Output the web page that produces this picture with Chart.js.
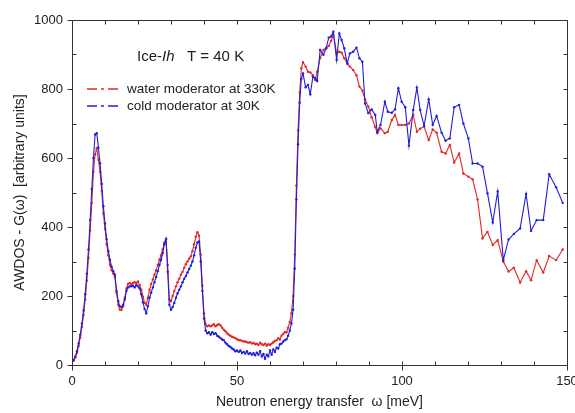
<!DOCTYPE html>
<html><head><meta charset="utf-8">
<script src="https://cdn.jsdelivr.net/npm/chart.js@4.4.1/dist/chart.umd.min.js"></script>
<style>html,body{margin:0;padding:0;background:#fff;}#wrap{width:575px;height:413px;}</style>
</head><body><div id="wrap"><canvas id="c" width="575" height="413"></canvas></div>
<script>
// Energy transfer values (meV)
const energy = [
 0.5,1,1.5,2,2.5,3,3.5,4,4.5,5,5.5,6,6.5,7,7.5,8,8.5,9,9.5,10,
 10.5,11,11.5,12,12.5,13,13.5,14,14.5,15,15.5,16,16.5,17,17.5,18,18.5,19,19.5,20,
 20.5,21,21.5,22,22.5,23,23.5,24,24.5,25,25.5,26,26.5,27,27.5,28,28.5,29,29.5,30,
 30.5,31,31.5,32,32.5,33,33.5,34,34.5,35,35.5,36,36.5,37,37.5,38,38.5,39,39.5,40,
 40.5,41,41.5,42,42.5,43,43.5,44,44.5,45,45.5,46,46.5,47,47.5,48,48.5,49,49.5,50,
 50.5,51,51.5,52,52.5,53,53.5,54,54.5,55,55.5,56,56.5,57,57.5,58,58.5,59,59.5,60,
 60.5,61,61.5,62,62.5,63,63.5,64,64.5,65,65.5,66,66.5,67,67.5,68,68.5,69,69.5,70,
 70.8,71.5,72.2,73.0,73.7,74.3,75.2,76.2,77.0,77.8,
 78.5,79.2,80.2,81.0,81.7,82.5,83.4,84.2,85.2,86.2,
 87.1,88.0,88.8,89.8,90.8,91.9,92.5,93.5,94.8,95.7,
 96.9,97.9,98.9,99.9,101.0,102.1,103.4,104.5,105.5,106.7,
 108.1,109.3,110.5,112.0,113.2,114.5,115.8,117.3,118.6,120.1,
 121.4,122.9,124.4,125.9,127.5,129.0,130.7,132.3,133.9,135.8,
 137.6,139.1,140.8,142.8,144.6,146.7,148.7
];
// Water moderator at 330K
const waterModerator = [
 12,22,35,55,80,110,145,190,245,310,390,470,560,610,628,595,560,505,440,395,
 350,318,290,275,265,255,210,175,160,160,170,195,222,235,238,233,238,240,238,242,
 232,218,198,180,175,195,218,235,248,262,275,290,305,318,335,355,366,290,190,185,
 200,215,228,240,250,262,270,282,292,300,308,315,330,350,372,385,375,320,230,150,
 118,112,115,112,115,118,112,116,118,115,108,102,98,92,88,85,82,80,78,75,
 72,72,70,68,68,66,65,66,62,64,60,62,58,65,60,58,62,56,60,58,
 62,66,70,72,78,74,85,90,95,95,108,125,150,200,320,520,680,790,860,878,
 865,850,848,840,826,850,890,913,918,925,
 940,957,903,908,905,889,875,865,855,840,
 807,795,770,749,718,690,672,686,672,676,
 710,725,696,696,696,700,725,676,685,691,
 652,683,673,618,613,638,587,613,555,546,
 538,480,367,386,348,362,300,271,282,239,
 272,246,304,268,316,304,335
];
// Cold moderator at 30K
const coldModerator = [
 15,25,40,62,88,120,158,205,265,335,420,510,600,668,672,630,585,525,460,410,
 365,330,305,285,272,262,215,185,170,168,175,190,215,225,228,228,230,225,232,228,
 222,205,182,162,150,170,195,210,225,240,255,272,290,305,325,350,364,270,175,160,
 168,180,195,208,218,228,240,250,258,268,278,288,300,318,340,355,358,300,215,135,
 100,92,95,88,95,90,92,85,82,78,74,72,65,60,55,52,48,45,40,42,
 38,42,35,38,33,40,32,35,30,34,28,36,30,40,25,32,18,30,25,42,
 30,45,38,50,48,60,62,68,72,75,85,100,120,160,280,480,640,760,830,845,
 805,812,785,836,831,823,913,899,918,949,
 952,966,884,961,942,918,874,903,908,920,
 889,879,758,730,741,725,676,696,763,734,
 731,741,802,763,747,636,739,804,739,693,
 770,696,722,673,650,657,747,754,700,657,
 584,584,575,498,413,503,304,364,380,396,
 496,389,420,420,553,515,470
];
const xTickLabels = [0, 50, 100, 150];
const yTickLabels = [0, 200, 400, 600, 800, 1000];
const seriesNames = ['water moderator at 330K', 'cold moderator at 30K'];
const sampleNamePlain = 'Ice-';
const sampleNameItalic = 'Ih';
const sampleTemp = '   T = 40 K';
const xTitle = 'Neutron energy transfer  \u03c9 [meV]';
const yTitle = 'AWDOS - G(\u03c9)  [arbitrary units]';

const RED = '#e3262a', BLUE = '#1f1fd8';
const FONT = "'Liberation Sans', Arial, sans-serif";
const TXT = '#222';

const toPts = arr => energy.map((e, i) => ({x: e, y: arr[i]}));

const framePlugin = {
  id: 'frame',
  afterDraw(chart) {
    const {ctx, chartArea: a, scales: {x, y}} = chart;
    const L = Math.round(a.left) + 0.5, R = Math.round(a.right) + 0.5;
    const T = Math.round(a.top) + 0.5, B = Math.round(a.bottom) + 0.5;
    ctx.save();
    ctx.strokeStyle = '#333';
    ctx.lineWidth = 1;
    ctx.beginPath();
    ctx.rect(L, T, R - L, B - T);
    for (let v = 0; v <= 150; v += 10) {
      const px = Math.round(x.getPixelForValue(v)) + 0.5;
      if (v % 50 === 0) { ctx.moveTo(px, B); ctx.lineTo(px, B + 5); }
      ctx.moveTo(px, B); ctx.lineTo(px, B - 4);
      ctx.moveTo(px, T); ctx.lineTo(px, T + 4);
    }
    for (let v = 0; v <= 1000; v += 100) {
      const py = Math.round(y.getPixelForValue(v)) + 0.5;
      if (v % 200 === 0) { ctx.moveTo(L - 5, py); ctx.lineTo(L, py); }
      else { ctx.moveTo(L, py); ctx.lineTo(L + 4, py); }
      ctx.moveTo(R, py); ctx.lineTo(R - 4, py);
    }
    ctx.stroke();

    // annotation and legend
    ctx.fillStyle = TXT;
    ctx.textBaseline = 'middle';
    ctx.textAlign = 'left';
    let tx = 137, ty = 57;
    ctx.font = '15px ' + FONT;
    ctx.fillText(sampleNamePlain, tx, ty);
    tx += ctx.measureText(sampleNamePlain).width;
    ctx.font = 'italic 15px ' + FONT;
    ctx.fillText(sampleNameItalic, tx, ty);
    tx += ctx.measureText(sampleNameItalic).width;
    ctx.font = '15px ' + FONT;
    ctx.fillText(sampleTemp, tx, ty);

    const rows = [[seriesNames[0], RED, 89], [seriesNames[1], BLUE, 106]];
    rows.forEach(([name, col, yy]) => {
      ctx.strokeStyle = col;
      ctx.lineWidth = 1.5;
      ctx.setLineDash([10, 4, 3, 4]);
      ctx.beginPath();
      ctx.moveTo(87, yy); ctx.lineTo(121, yy);
      ctx.stroke();
      ctx.setLineDash([]);
      ctx.fillStyle = TXT;
      ctx.font = '13.5px ' + FONT;
      ctx.fillText(name, 127, yy);
    });
    ctx.restore();
  }
};

new Chart(document.getElementById('c'), {
  type: 'line',
  data: {
    datasets: [
      {label: seriesNames[1], data: toPts(coldModerator), borderColor: BLUE, backgroundColor: BLUE,
       borderWidth: 1.1, pointRadius: 1.2, pointBorderWidth: 0, pointBackgroundColor: BLUE, tension: 0},
      {label: seriesNames[0], data: toPts(waterModerator), borderColor: RED, backgroundColor: RED,
       borderWidth: 1.1, pointRadius: 1.2, pointBorderWidth: 0, pointBackgroundColor: RED, tension: 0}
    ]
  },
  options: {
    responsive: false,
    animation: false,
    devicePixelRatio: 1,
    layout: {padding: {top: 20, right: 8, left: 0, bottom: 0}},
    plugins: {legend: {display: false}, tooltip: {enabled: false}},
    scales: {
      x: {
        type: 'linear', min: 0, max: 150,
        afterBuildTicks: s => { s.ticks = xTickLabels.map(v => ({value: v})); },
        afterFit: s => { s.height = 48; s.paddingLeft = 0; s.paddingRight = 0; },
        grid: {display: false, drawTicks: false},
        border: {display: false},
        ticks: {color: TXT, font: {family: FONT, size: 13}, padding: 9, maxRotation: 0, autoSkip: false,
                callback: v => String(v)},
        title: {display: true, text: xTitle, color: TXT, font: {family: FONT, size: 14}, padding: {top: 0, bottom: 2}}
      },
      y: {
        type: 'linear', min: 0, max: 1000,
        afterBuildTicks: s => { s.ticks = yTickLabels.map(v => ({value: v})); },
        afterFit: s => { s.width = 72; s.paddingTop = 0; s.paddingBottom = 0; },
        grid: {display: false, drawTicks: false},
        border: {display: false},
        ticks: {color: TXT, font: {family: FONT, size: 13}, padding: 9, autoSkip: false,
                callback: v => String(v)},
        title: {display: true, text: yTitle, color: TXT, font: {family: FONT, size: 14}, padding: {top: 12, bottom: 0}}
      }
    }
  },
  plugins: [framePlugin]
});
</script></body></html>
